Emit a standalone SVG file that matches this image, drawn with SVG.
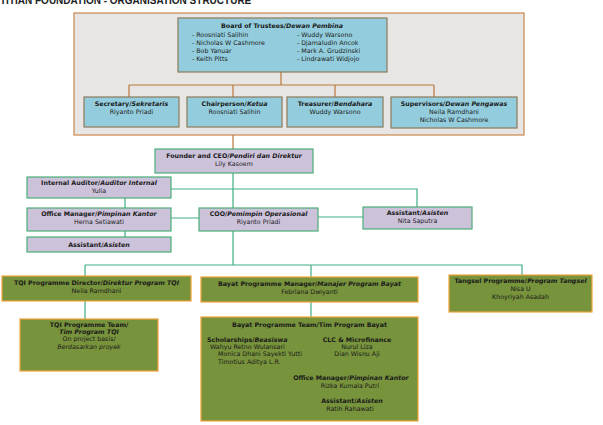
<svg xmlns="http://www.w3.org/2000/svg" width="603" height="425" viewBox="0 0 603 425">
<style>
text{font-family:"DejaVu Sans","Verdana",sans-serif;font-size:6.3px;fill:#1a1a1a;text-anchor:middle}
.b{font-weight:bold}
.i{font-style:italic}
.l{text-anchor:start}
.title{font-family:"Liberation Sans",Arial,sans-serif;font-size:10px;font-weight:bold;text-anchor:start;fill:#222}
.cont{fill:#e8e6e4;stroke:#c8874e;stroke-width:1.2}
.blue{fill:#93cddd;stroke:#8a7a5a;stroke-width:1.2}
.lav{fill:#ccc2da;stroke:#4aae78;stroke-width:1.2}
.olv{fill:#77933c;stroke:#f2a33a;stroke-width:1.2}
.cb{fill:none;stroke:#b8783a;stroke-width:1.2}
.cg{fill:none;stroke:#3fae80;stroke-width:1.2}
</style>
<rect width="603" height="425" fill="#ffffff"/>
<text class="title" x="0" y="3.5">TITIAN FOUNDATION - ORGANISATION STRUCTURE</text>

<g id="board-container"><rect class="cont" x="74" y="13" width="450" height="122"/></g>

<g id="connectors">
<path class="cb" d="M281 72V85M129 85H434M129 85V97M233 85V97M335 85V97M434 85V97M233 135V149"/>
<path class="cg" d="M233 173V208M171 189H417V207M125 198V208M125 231V237M171 218H199M318 217H363M233 231V265M85 265H522V275M85 265V276M311 265V277M85 301V319M311 302V317"/>
</g>

<g id="board">
<rect class="blue" x="178" y="18" width="209" height="54"/>
<text class="b" x="282" y="28">Board of Trustees/<tspan class="i">Dewan Pembina</tspan></text>
<text class="l" x="192" y="37">-  Roosniati Salihin</text>
<text class="l" x="192" y="45">-  Nicholas W Cashmore</text>
<text class="l" x="192" y="53">-  Bob Yanuar</text>
<text class="l" x="192" y="61">-  Keith Pitts</text>
<text class="l" x="297" y="37">- Wuddy Warsono</text>
<text class="l" x="297" y="45">- Djamaludin Ancok</text>
<text class="l" x="297" y="53">- Mark A. Grudzinski</text>
<text class="l" x="297" y="61">- Lindrawati Widjojo</text>
</g>

<g id="secretary">
<rect class="blue" x="84" y="97" width="95" height="30"/>
<text class="b" x="131.5" y="106">Secretary/<tspan class="i">Sekretaris</tspan></text>
<text x="131.5" y="114">Riyanto Priadi</text>
</g>
<g id="chairperson">
<rect class="blue" x="187" y="97" width="95" height="30"/>
<text class="b" x="234.5" y="106">Chairperson/<tspan class="i">Ketua</tspan></text>
<text x="234.5" y="114">Roosniati Salihin</text>
</g>
<g id="treasurer">
<rect class="blue" x="287" y="97" width="96" height="30"/>
<text class="b" x="335" y="106">Treasurer/<tspan class="i">Bendahara</tspan></text>
<text x="335" y="114">Wuddy Warsono</text>
</g>
<g id="supervisors">
<rect class="blue" x="391" y="97" width="126" height="31"/>
<text class="b" x="454" y="106">Supervisors/<tspan class="i">Dewan Pengawas</tspan></text>
<text x="454" y="114">Neila Ramdhani</text>
<text x="454" y="122">Nicholas W Cashmore</text>
</g>

<g id="founder">
<rect class="lav" x="155" y="149" width="158" height="24"/>
<text class="b" x="234" y="158">Founder and CEO/<tspan class="i">Pendiri dan Direktur</tspan></text>
<text x="234" y="166">Lily Kasoem</text>
</g>
<g id="auditor">
<rect class="lav" x="27" y="177" width="144" height="21"/>
<text class="b" x="99" y="185">Internal Auditor/<tspan class="i">Auditor Internal</tspan></text>
<text x="99" y="193">Yulia</text>
</g>
<g id="office-manager">
<rect class="lav" x="27" y="208" width="144" height="23"/>
<text class="b" x="99" y="216">Office Manager/<tspan class="i">Pimpinan Kantor</tspan></text>
<text x="99" y="224">Herna Setiawati</text>
</g>
<g id="assistant-left">
<rect class="lav" x="27" y="237" width="144" height="15"/>
<text class="b" x="99" y="247">Assistant/<tspan class="i">Asisten</tspan></text>
</g>
<g id="coo">
<rect class="lav" x="199" y="208" width="119" height="23"/>
<text class="b" x="258.5" y="216">COO/<tspan class="i">Pemimpin Operasional</tspan></text>
<text x="258.5" y="224">Riyanto Priadi</text>
</g>
<g id="assistant-right">
<rect class="lav" x="363" y="207" width="109" height="22"/>
<text class="b" x="417.5" y="215">Assistant/<tspan class="i">Asisten</tspan></text>
<text x="417.5" y="223">Nita Saputra</text>
</g>

<g id="tqi-director">
<rect class="olv" x="2" y="276" width="189" height="25"/>
<text class="b" x="96.5" y="285">TQI Programme Director/<tspan class="i">Direktur Program TQI</tspan></text>
<text x="96.5" y="293">Neila Ramdhani</text>
</g>
<g id="tqi-team">
<rect class="olv" x="20" y="319" width="138" height="52"/>
<text class="b" x="89" y="327">TQI Programme Team/</text>
<text class="b i" x="89" y="334">Tim Program TQI</text>
<text x="89" y="341">On project basis/</text>
<text class="i" x="89" y="349">Berdasarkan proyek</text>
</g>
<g id="bayat-manager">
<rect class="olv" x="201" y="277" width="217" height="25"/>
<text class="b" x="309.5" y="286">Bayat Programme Manager/<tspan class="i">Manajer Program Bayat</tspan></text>
<text x="309.5" y="294">Febriana Dwiyanti</text>
</g>
<g id="bayat-team">
<rect class="olv" x="201" y="317" width="217" height="104"/>
<text class="b" x="309.5" y="327">Bayat Programme Team/Tim Program Bayat</text>
<text class="b l" x="207" y="342">Scholarships/<tspan class="i">Beasiswa</tspan></text>
<text class="l" x="210" y="349">Wahyu Retno Wulansari</text>
<text class="l" x="218" y="356">Monica Dhani Sayekti Yutti</text>
<text class="l" x="218" y="364">Timotius Aditya L.R.</text>
<text class="b" x="357" y="342">CLC &amp; Microfinance</text>
<text x="357" y="349">Nurul Liza</text>
<text x="357" y="356">Dian Wisnu Aji</text>
<text class="b" x="351" y="380">Office Manager/<tspan class="i">Pimpinan Kantor</tspan></text>
<text x="350" y="388">Rizka Kumala Putri</text>
<text class="b" x="352" y="403">Assistant/<tspan class="i">Asisten</tspan></text>
<text x="350" y="411">Ratih Rahawati</text>
</g>
<g id="tangsel">
<rect class="olv" x="449" y="275" width="143" height="37"/>
<text class="b" x="520.5" y="283">Tangsel Programme/<tspan class="i">Program Tangsel</tspan></text>
<text x="520.5" y="291">Nisa U</text>
<text x="520.5" y="299">Khoyriyah Asadah</text>
</g>
</svg>
